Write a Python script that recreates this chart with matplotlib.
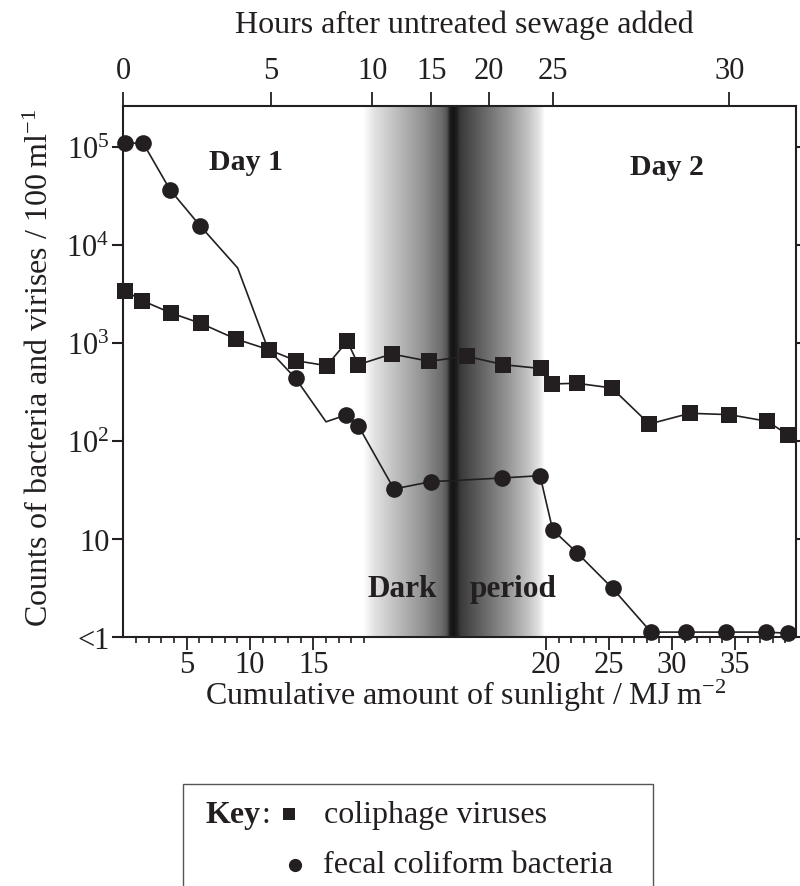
import numpy as np
import matplotlib
matplotlib.use("Agg")
import matplotlib.pyplot as plt
from matplotlib.lines import Line2D
from matplotlib.patches import Rectangle

plt.rcParams['font.family'] = ['Liberation Serif', 'DejaVu Serif']
plt.rcParams['mathtext.fontset'] = 'custom'
plt.rcParams['mathtext.rm'] = 'Liberation Serif'
plt.rcParams['mathtext.it'] = 'Liberation Serif:italic'
plt.rcParams['mathtext.bf'] = 'Liberation Serif:bold'

INK = '#231f20'

# ---------------- data ----------------
coliphage_hours = [0.05, 0.64, 1.61, 2.62, 3.82, 4.94, 6.25, 7.76, 8.78, 9.32,
                   11.66, 14.84, 18.06, 21.10, 24.03, 24.91, 25.67, 26.67,
                   27.73, 28.88, 30.00, 31.07, 31.67]
coliphage_counts = [3440, 2720, 2040, 1600, 1106, 860, 664, 591, 1048, 605,
                    778, 655, 737, 605, 553, 384, 391, 350,
                    150, 193, 187, 160, 116]

fecal_hours = [0.05, 0.67, 1.58, 2.60, 3.88, 4.91, 6.23, 7.73, 8.70, 9.32,
               11.85, 14.96, 21.02, 23.99, 24.98, 25.69, 26.69, 27.78,
               28.76, 29.90, 31.04, 31.67]
fecal_counts = [110000, 110000, 36900, 15850, 5870, 875, 439, 158, 185, 144,
                32.6, 38.7, 42.2, 44.6, 12.5, 7.25, 3.16, 1.13,
                1.13, 1.13, 1.13, 1.10]
fecal_marked = [True, True, True, True, False, False, True, False, True, True,
                True, True, True, True, True, True, True, True,
                True, True, True, True]

hour_ticks = [0, 5, 10, 15, 20, 25, 30]
sunlight_major = [5, 10, 15, 20, 25, 30, 35]
sunlight_minor = [s for s in list(range(1, 20)) + list(range(21, 40))
                  if s not in sunlight_major]
ytick_values = [1, 10, 100, 1e3, 1e4, 1e5]
ytick_labels = ['<1', '10', r'10$^2$', r'10$^3$', r'10$^4$', r'10$^5$']

# -------- axis geometry (hours / sunlight -> horizontal position) --------
HOUR_ANCHORS = [0, 5, 10, 15, 20, 25, 30, 35]
POS_ANCHORS = [0.2, 147.3, 248.8, 307.9, 366.0, 429.6, 606.1, 782.6]
SUN_ANCHORS = [0, 19, 20, 40]
SUN_POS = [0.1, 240.6, 422.7, 674.7]
AXIS_WIDTH = 672.7


def interp_ext(x, xp, fp):
    x = np.asarray(x, dtype=float)
    y = np.interp(x, xp, fp)
    lo_slope = (fp[1] - fp[0]) / (xp[1] - xp[0])
    hi_slope = (fp[-1] - fp[-2]) / (xp[-1] - xp[-2])
    y = np.where(x < xp[0], fp[0] + (x - xp[0]) * lo_slope, y)
    y = np.where(x > xp[-1], fp[-1] + (x - xp[-1]) * hi_slope, y)
    return y


def h2p(h):
    return interp_ext(h, HOUR_ANCHORS, POS_ANCHORS)


def p2h(p):
    return interp_ext(p, POS_ANCHORS, HOUR_ANCHORS)


def sun_to_hours(s):
    return p2h(np.interp(s, SUN_ANCHORS, SUN_POS))


XLIM = (float(p2h(0.0)), float(p2h(AXIS_WIDTH)))
YLIM = (1, 10 ** 5.424)

# ---------------- figure ----------------
W, H = 800, 887
fig = plt.figure(figsize=(8.0, 8.87), dpi=100)
L, R, T, B = 123.3, 796.0, 106.7, 638.3
ax_rect = [L / W, 1 - B / H, (R - L) / W, (B - T) / H]

# dark-period gradient band (behind main axes)
band_px = [363, 375, 400, 425, 442, 447, 450, 453, 457, 460, 470, 490, 510, 530, 540, 545]
band_gray = [1.0, 0.88, 0.72, 0.56, 0.42, 0.33, 0.12, 0.08, 0.12, 0.22, 0.30, 0.45, 0.60, 0.78, 0.90, 1.0]
bx0, bx1 = band_px[0], band_px[-1]
bax = fig.add_axes([bx0 / W, 1 - B / H, (bx1 - bx0) / W, (B - T) / H], zorder=-1)
xs = np.linspace(bx0, bx1, 400)
grad = np.interp(xs, band_px, band_gray)
bax.imshow(grad[None, :], aspect='auto', cmap='gray', vmin=0, vmax=1,
           extent=(0, 1, 0, 1), interpolation='bilinear')
bax.set_axis_off()

ax = fig.add_axes(ax_rect, zorder=1)
ax.patch.set_visible(False)
ax.set_yscale('log')
ax.set_xscale('function', functions=(h2p, p2h))
ax.set_xlim(*XLIM)
ax.set_ylim(*YLIM)

# data lines
ax.plot(fecal_hours, fecal_counts, '-', color=INK, lw=1.2, zorder=3)
fh = [h for h, m in zip(fecal_hours, fecal_marked) if m]
fc = [c for c, m in zip(fecal_counts, fecal_marked) if m]
ax.plot(fh, fc, 'o', color=INK, ms=12, mew=0, zorder=4, clip_on=False)
ax.plot(coliphage_hours, coliphage_counts, '-', color=INK, lw=1.2, zorder=5)
ax.plot(coliphage_hours, coliphage_counts, 's', color=INK, ms=12, mew=0,
        zorder=6, clip_on=False)

for sp in ax.spines.values():
    sp.set_linewidth(1.5)
    sp.set_color(INK)

# y ticks
ax.set_yticks(ytick_values)
ax.set_yticklabels(ytick_labels)
ax.yaxis.set_minor_locator(matplotlib.ticker.NullLocator())
ax.tick_params(axis='y', which='major', direction='out', length=8, width=1.5,
               color=INK, labelsize=22, pad=2, right=True, labelcolor=INK)

# bottom ticks (sunlight)
ax.set_xticks(sun_to_hours(sunlight_major))
ax.set_xticklabels([str(s) for s in sunlight_major])
ax.set_xticks(sun_to_hours(sunlight_minor), minor=True)
ax.tick_params(axis='x', which='major', direction='out', length=9, width=1.3,
               color=INK, labelsize=22, pad=0.5, top=False, labelcolor=INK)
ax.tick_params(axis='x', which='minor', direction='out', length=4, width=1.2,
               color=INK, top=False)

# top ticks (hours)
ax2 = ax.twiny()
ax2.set_xscale('function', functions=(h2p, p2h))
ax2.set_xlim(*XLIM)
ax2.set_xticks(hour_ticks)
ax2.set_xticklabels([str(h) for h in hour_ticks])
ax2.xaxis.set_minor_locator(matplotlib.ticker.NullLocator())
ax2.tick_params(axis='x', which='major', direction='out', length=10, width=1.3,
                color=INK, labelsize=22, pad=5, labelcolor=INK)
for sp in ax2.spines.values():
    sp.set_visible(False)

# annotations inside the plot
def axfrac(px, py):
    return ((px - L) / (R - L), (B - py) / (B - T))

ax.text(*axfrac(245.5, 163), 'Day 1', transform=ax.transAxes, ha='center',
        va='center', fontsize=21.5, fontweight='bold', color=INK)
ax.text(*axfrac(666.7, 168), 'Day 2', transform=ax.transAxes, ha='center',
        va='center', fontsize=21.5, fontweight='bold', color=INK)
ax.text(*axfrac(402, 590), 'Dark', transform=ax.transAxes, ha='center',
        va='center', fontsize=22.5, fontweight='bold', color=INK)
ax.text(*axfrac(513, 590), 'period', transform=ax.transAxes, ha='center',
        va='center', fontsize=22.5, fontweight='bold', color=INK)

# axis titles
fig.text(464 / W, 1 - 25 / H, 'Hours after untreated sewage added',
         ha='center', va='center', fontsize=23, color=INK)
fig.text(466 / W, 1 - 696 / H, 'Cumulative amount of sunlight / MJ\u2009m$^{-2}$',
         ha='center', va='center', fontsize=23, color=INK)
fig.text(40 / W, 1 - 368 / H, 'Counts of bacteria and virises / 100\u2009ml$^{-1}$',
         ha='center', va='center', rotation=90, fontsize=23, color=INK)

# key box
fig.add_artist(Rectangle((183 / W, 1 - 900 / H), (653 - 183) / W, (900 - 785) / H,
                         transform=fig.transFigure, fill=False, lw=1.0,
                         edgecolor='#555555'))
fig.text(206 / W, 1 - 823 / H, 'Key', ha='left', va='baseline', fontsize=23,
         fontweight='bold', color=INK)
fig.text(262 / W, 1 - 823 / H, ':', ha='left', va='baseline', fontsize=23, color=INK)
fig.add_artist(Line2D([289 / W], [1 - 815 / H], marker='s', ms=9, mew=0,
                      color=INK, transform=fig.transFigure))
fig.add_artist(Line2D([295 / W], [1 - 866 / H], marker='o', ms=9.5, mew=0,
                      color=INK, transform=fig.transFigure))
fig.text(324 / W, 1 - 823 / H, 'coliphage viruses', ha='left', va='baseline',
         fontsize=23, color=INK)
fig.text(323 / W, 1 - 873 / H, 'fecal coliform bacteria', ha='left', va='baseline',
         fontsize=23, color=INK)

fig.savefig('out.png', dpi=100)
